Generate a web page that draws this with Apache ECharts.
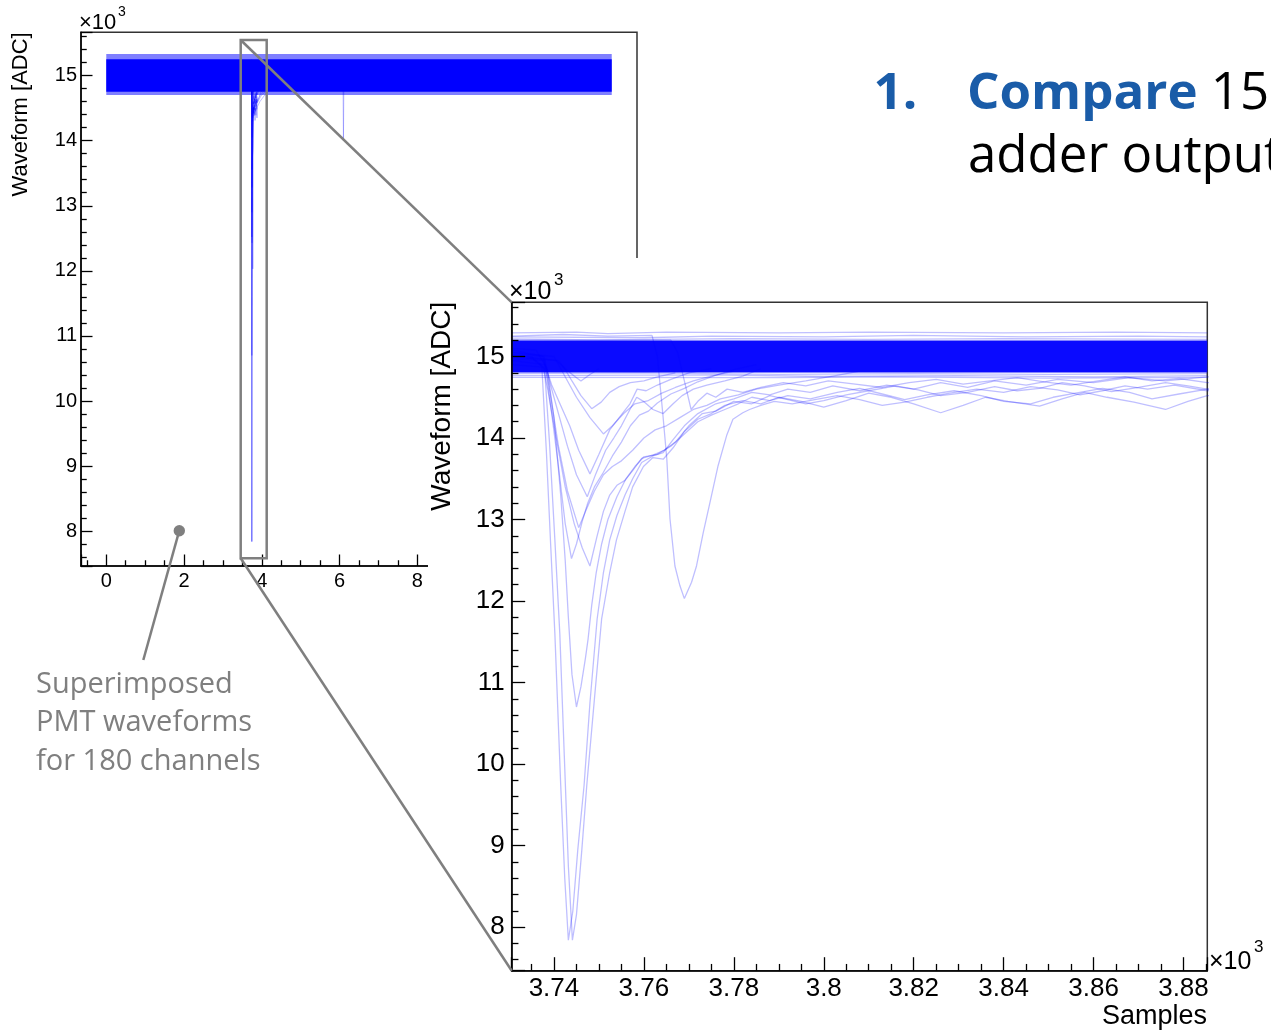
<!DOCTYPE html>
<html>
<head>
<meta charset="utf-8">
<script src="https://cdn.jsdelivr.net/npm/echarts@6/dist/echarts.min.js"></script>
<style>
  html, body { margin: 0; padding: 0; background: #fff; }
  #main { width: 1271px; height: 1031px; }
</style>
</head>
<body>
<div id="main"></div>
<script>
// ---------------- data ----------------
// axis ranges (samples / ADC counts)
const overviewSamples = [-650, 13650];
const zoomSamples = [3730.6, 3885.3];
const adcRange = [7465, 15665];

// baseline band of the 180 superimposed channels
const recordSpan = [0, 13000];
const overviewCore = [14750, 15250];
const overviewFringe = [14700, 15330];
const zoomCore = [14805, 15195];

// channels at the edges of the baseline band (enlarged view)
const edgeHigh1 = [[3730.6,15290],[3745,15300],[3752,15280],[3765,15300],[3790,15290],[3810,15300],[3840,15290],[3865,15300],[3885.3,15290]];
const edgeHigh2 = [[3730.6,15240],[3760,15230],[3775,15250],[3800,15240],[3820,15260],[3845,15240],[3870,15250],[3885.3,15240]];
const edgeHigh3 = [[3730.6,15215],[3750,15205],[3780,15220],[3810,15210],[3840,15220],[3885.3,15210]];
const edgeLow1 = [[3730.6,14790],[3760,14800],[3790,14780],[3820,14790],[3850,14780],[3885.3,14790]];
const edgeLow2 = [[3730.6,14765],[3775,14775],[3800,14755],[3830,14765],[3860,14750],[3885.3,14765]];
const edgeLow3 = [[3730.6,14745],[3790,14740],[3815,14750],[3850,14735],[3885.3,14745]];

// channels with a pulse, [sample, ADC]
const chA1 = [[3730.6,15020],[3735,15000],[3737.3,14880],[3738.3,13850],[3739.3,12650],[3740.2,11600],[3741.5,9740],[3742.4,8600],[3743.2,7840],[3744.2,8200],[3745.3,8950],[3746.7,9740],[3748,10750],[3749.6,11780],[3751,12350],[3752.4,12750],[3754,13050],[3755.8,13300],[3757.5,13500],[3759.5,13700],[3762,13780],[3764.3,13820],[3766.5,13980],[3769,14150],[3772,14300],[3776,14420],[3780,14480],[3784,14560],[3788,14530],[3792,14600],[3797,14560],[3802,14640],[3808,14580],[3814,14650],[3820,14600],[3826,14680],[3832,14620],[3838,14700],[3845,14650],[3852,14720],[3860,14680],[3868,14740],[3876,14700],[3885.3,14750],[3950,14800],[4150,14900]];
const chA2 = [[3730.6,14950],[3735,14980],[3737.9,14860],[3739,13950],[3740.2,12750],[3741.3,11600],[3742.3,10100],[3743.2,8750],[3744.1,7840],[3745,8150],[3746.2,8950],[3747.3,9740],[3749,10800],[3750.6,11780],[3752.4,12350],[3753.9,12750],[3755.8,13100],[3757.5,13400],[3759.9,13650],[3762,13760],[3764.3,13740],[3766.5,13880],[3769,14080],[3772,14230],[3775,14300],[3778,14400],[3782,14460],[3786,14420],[3790,14500],[3795,14450],[3800,14380],[3805,14460],[3810,14550],[3815,14500],[3820,14420],[3826,14310],[3831,14400],[3836,14500],[3841,14450],[3848,14390],[3853,14480],[3858,14560],[3863,14500],[3869,14440],[3876,14350],[3881,14450],[3885.3,14520],[3950,14600],[4100,14720],[4300,14850]];
const chB = [[3730.6,15100],[3736,15080],[3738.5,14850],[3740,14250],[3741.5,13300],[3742.5,12500],[3743.2,11800],[3744,11100],[3745,10700],[3746,10950],[3747,11300],[3747.6,11540],[3748.4,11950],[3749.4,12350],[3750.6,12700],[3752,13000],[3754,13280],[3756,13500],[3758,13650],[3760,13770],[3763,13800],[3766,13900],[3769,14050],[3772,14200],[3775,14280],[3778,14350],[3781,14420],[3784,14500],[3788,14460],[3792,14520],[3797,14480],[3803,14560],[3808,14610],[3813,14540],[3818,14470],[3823,14530],[3829,14580],[3835,14520],[3840,14450],[3846,14420],[3851,14500],[3856,14550],[3862,14610],[3868,14560],[3873,14480],[3879,14540],[3885.3,14600],[3960,14700],[4200,14850]];
const chC = [[3730.6,15050],[3737.5,15000],[3738.3,14800],[3739.5,14300],[3741,13650],[3742.5,12950],[3743.9,12520],[3745,12700],[3746.3,12980],[3747.5,13200],[3749,13400],[3751,13580],[3753,13780],[3755,13950],[3757,14150],[3759,14280],[3761,14330],[3763,14430],[3766,14540],[3769,14610],[3772,14690],[3776,14770],[3780,14840],[3785,14900]];
const chD = [[3730.6,14900],[3737.6,14870],[3738.6,14600],[3740.5,14000],[3742.5,13400],[3744.5,12950],[3746.3,12650],[3748,12430],[3749.6,12800],[3751,13100],[3752.4,13300],[3754,13420],[3755.8,13480],[3757.5,13600],[3759.5,13750],[3762,13790],[3764.5,13850],[3767,13950],[3770,14150],[3773,14300],[3776,14330],[3780,14450],[3784,14420],[3788,14520],[3792,14470],[3796,14420],[3800,14460],[3805,14530],[3810,14580],[3816,14640],[3821,14590],[3826,14520],[3832,14560],[3838,14630],[3843,14580],[3848,14610],[3853,14680],[3858,14640],[3864,14570],[3870,14620],[3876,14680],[3881,14640],[3885.3,14600],[3980,14750],[4250,14880]];
const chE = [[3730.6,15080],[3737.8,15000],[3739,14700],[3741,14300],[3743,13900],[3745,13550],[3747.4,13280],[3749.3,13560],[3751.5,13850],[3753.3,14000],[3755,14150],[3756.9,14350],[3758.4,14500],[3759.9,14450],[3762,14350],[3764.3,14300],[3766.5,14420],[3768.5,14520],[3771,14600],[3774,14650],[3778,14700],[3782,14760],[3786,14850]];
const chF = [[3730.6,14950],[3738,14900],[3739.5,14650],[3741.5,14400],[3743.5,14150],[3745.5,13850],[3748,13560],[3750,13800],[3752.4,14100],[3754.5,14250],[3756.9,14420],[3758.5,14600],[3760.5,14580],[3763,14650],[3766,14720],[3770,14800],[3775,14850]];
const chG = [[3730.6,15000],[3741,14950],[3742.4,14850],[3744,14700],[3746,14520],[3748.4,14360],[3750.5,14440],[3752.4,14560],[3754.5,14630],[3757,14680],[3760,14700],[3763,14750],[3767,14800]];
const chH = [[3730.6,15020],[3740.5,14950],[3742.5,14850],[3744.5,14760],[3746,14700],[3748,14780],[3750,14850]];
const chI = [[3730.6,15250],[3742,15270],[3752,15250],[3761.8,15260],[3763,15000],[3764.2,14300],[3765.1,13740],[3765.8,13010],[3766.9,12430],[3768,12190],[3769,12030],[3770.6,12230],[3771.7,12430],[3773.2,12840],[3774.7,13210],[3776.5,13660],[3778.4,14030],[3779.8,14230],[3782,14310],[3783.5,14350],[3786,14400],[3789,14450],[3793,14420],[3798,14470],[3803,14520],[3808,14470],[3813,14400],[3818,14440],[3823,14500],[3828,14550],[3834,14600],[3840,14560],[3846,14630],[3852,14590],[3857,14530],[3862,14580],[3867,14640],[3872,14600],[3878,14650],[3885.3,14580],[3990,14700],[4300,14850]];
const chJ = [[3730.6,15200],[3766,15200],[3767.5,15050],[3769,14700],[3770.5,14350],[3772,14450],[3774,14550],[3776,14500],[3778.5,14600],[3782,14560],[3786,14620],[3791,14680],[3796,14640],[3801,14700],[3807,14660],[3813,14620],[3819,14680],[3825,14720],[3831,14660],[3837,14700],[3843,14740],[3849,14690],[3855,14650],[3861,14700],[3867,14750],[3873,14700],[3879,14730],[3885.3,14680],[3950,14800]];
const chK = [[3730.6,14980],[3737.9,14950],[3739,14600],[3741,13900],[3743,13350],[3745.5,12900],[3747,13100],[3749,13350],[3751,13550],[3753,13650],[3755,13720],[3757.5,13850],[3760,14000],[3762.5,14100],[3765,14150],[3768,14250],[3771,14350],[3774,14400],[3777,14480],[3781,14530],[3785,14600],[3790,14650],[3796,14700],[3802,14760],[3808,14820]];
const chL = [[3730.6,15050],[3740,15000],[3742,14800],[3745,14500],[3748,14250],[3751,14050],[3753,14150],[3755.5,14300],[3758,14420],[3761,14460],[3764,14550],[3767,14620],[3771,14700],[3775,14760],[3780,14820]];
// single-channel glitch later in the record
const chGlitch = [[6090,14850],[6100,14000],[6110,14850]];

const pulseChannels = [chA1, chA2, chB, chC, chD, chE, chF, chG, chH, chI, chJ, chK, chL];
const edgeChannels = [edgeHigh1, edgeHigh2, edgeHigh3, edgeLow1, edgeLow2, edgeLow3];

// ---------------- styling helpers ----------------
const TRACE = 'rgba(0,0,255,0.25)';
const AXIS_FONT = '"Liberation Sans", Arial, Helvetica, sans-serif';
const SLIDE_FONT = '"Open Sans", "Noto Sans", sans-serif';
const GRAY = '#7f7f7f';

function trace(data, gi, z, width) {
  return {
    type: 'line', xAxisIndex: gi, yAxisIndex: gi, data: data,
    symbol: 'none', showSymbol: false, silent: true, clip: true, z: z,
    lineStyle: { color: TRACE, width: width }
  };
}

// filled band between two ADC levels over a sample span
function band(span, levels, color, gi, z) {
  return {
    type: 'custom', xAxisIndex: gi, yAxisIndex: gi, silent: true, z: z,
    data: [[span[0], span[1], levels[0], levels[1]]],
    encode: { x: [0, 1], y: [2, 3] },
    renderItem: function (params, api) {
      const p0 = api.coord([api.value(0), api.value(3)]);
      const p1 = api.coord([api.value(1), api.value(2)]);
      const cs = params.coordSys;
      const shape = echarts.graphic.clipRectByRect(
        { x: p0[0], y: p0[1], width: p1[0] - p0[0], height: p1[1] - p0[1] },
        { x: cs.x, y: cs.y, width: cs.width, height: cs.height });
      return shape && { type: 'rect', shape: shape, style: { fill: color } };
    }
  };
}

function valueAxis(gi, range, split, step, font, margin, tickLen, minorSplit, z, divisor) {
  return {
    type: 'value', gridIndex: gi, min: range[0], max: range[1], z: z,
    splitNumber: split, minInterval: step, maxInterval: step,
    axisLine: { show: true, onZero: false, lineStyle: { color: '#000', width: 1.5 } },
    axisTick: { show: true, inside: true, length: tickLen, lineStyle: { color: '#000', width: 1.3 } },
    minorTick: { show: true, splitNumber: minorSplit, length: tickLen / 2, lineStyle: { color: '#000', width: 1.3 } },
    splitLine: { show: false }, minorSplitLine: { show: false },
    axisLabel: {
      show: true, margin: margin, fontSize: font, fontFamily: AXIS_FONT, color: '#000',
      formatter: v => (Math.abs(v % step) < 1e-6 ? String(Math.round(v) / divisor) : '')
    }
  };
}

// ---------------- series ----------------
const series = [];
// overview: whole record
series.push(band(recordSpan, overviewFringe, 'rgba(0,0,255,0.5)', 0, 1));
series.push(band(recordSpan, overviewCore, '#0000ff', 0, 1));
pulseChannels.forEach(d => series.push(trace(d, 0, 1, 1)));
series.push(trace(chGlitch, 0, 1, 1));
// enlarged view around the pulse
series.push(band(zoomSamples, zoomCore, '#0a0aff', 1, 4));
edgeChannels.forEach(d => series.push(trace(d, 1, 5, 1.3)));
pulseChannels.forEach(d => series.push(trace(d, 1, 5, 1.3)));

// ---------------- texts & slide decorations ----------------
function txt(x, y, text, font, fill, align, extra) {
  return Object.assign({ type: 'text', x: x, y: y, z: 10, silent: true,
    style: { text: text, font: font, fill: fill, align: align || 'left', verticalAlign: 'middle' } }, extra || {});
}
const graphics = [
  // the enlarged view sits on its own white panel
  { type: 'rect', z: 3, silent: true, shape: { x: 428, y: 258, width: 843, height: 773 }, style: { fill: '#fff' } },
  // zoom box and its connectors
  { type: 'rect', z: 10, silent: true, shape: { x: 240.7, y: 40, width: 26, height: 518.3 }, style: { fill: 'none', stroke: GRAY, lineWidth: 2.5 } },
  { type: 'line', z: 10, silent: true, shape: { x1: 240.7, y1: 40, x2: 511.7, y2: 302.3 }, style: { stroke: GRAY, lineWidth: 2.5 } },
  { type: 'line', z: 10, silent: true, shape: { x1: 240.7, y1: 558.3, x2: 511.7, y2: 970.7 }, style: { stroke: GRAY, lineWidth: 2.5 } },
  // callout
  { type: 'line', z: 10, silent: true, shape: { x1: 179.3, y1: 530.7, x2: 143.3, y2: 660 }, style: { stroke: GRAY, lineWidth: 2.5 } },
  { type: 'circle', z: 10, silent: true, shape: { cx: 179.3, cy: 530.7, r: 5.7 }, style: { fill: GRAY } },
  txt(36, 685, 'Superimposed', '29px ' + SLIDE_FONT, GRAY),
  txt(36, 723, 'PMT waveforms', '29px ' + SLIDE_FONT, GRAY),
  txt(36, 761.5, 'for 180 channels', '29px ' + SLIDE_FONT, GRAY),
  // heading
  txt(873.5, 94, '1.', 'bold 51px ' + SLIDE_FONT, '#1a5ca8'),
  { type: 'text', x: 967, y: 94, z: 10, silent: true,
    style: { text: '{b|Compare} 15', font: '51px ' + SLIDE_FONT, fill: '#000', verticalAlign: 'middle',
      rich: { b: { fontWeight: 'bold', fontSize: 51, fontFamily: SLIDE_FONT, fill: '#1a5ca8' } } } },
  txt(968, 157, 'adder output', '51px ' + SLIDE_FONT, '#000'),
  // axis titles and exponents
  txt(21, 32.3, 'Waveform [ADC]', '22px ' + AXIS_FONT, '#000', 'right', { rotation: Math.PI / 2 }),
  txt(79, 22.7, '×10', '22px ' + AXIS_FONT, '#000'),
  txt(118, 12.5, '3', '14px ' + AXIS_FONT, '#000'),
  txt(442.5, 301.7, 'Waveform [ADC]', '28px ' + AXIS_FONT, '#000', 'right', { rotation: Math.PI / 2 }),
  txt(509, 291.7, '×10', '25px ' + AXIS_FONT, '#000'),
  txt(554, 280, '3', '17px ' + AXIS_FONT, '#000'),
  txt(1209, 961.7, '×10', '25px ' + AXIS_FONT, '#000'),
  txt(1254, 947.5, '3', '17px ' + AXIS_FONT, '#000'),
  txt(1207, 1016.6, 'Samples', '27px ' + AXIS_FONT, '#000', 'right')
];

// ---------------- chart ----------------
const chart = echarts.init(document.getElementById('main'), null, { renderer: 'canvas' });
chart.setOption({
  animation: false,
  backgroundColor: '#fff',
  grid: [
    { left: 81, top: 32.3, width: 556, height: 533.7, show: true, z: 0, borderColor: '#333', borderWidth: 1.5, backgroundColor: 'transparent', outerBoundsMode: 'none' },
    { left: 511.7, top: 302.3, width: 695.6, height: 668.4, show: true, z: 4, borderColor: '#333', borderWidth: 1.5, backgroundColor: 'transparent', outerBoundsMode: 'none' }
  ],
  xAxis: [
    valueAxis(0, overviewSamples, 7, 2000, 20, 5, 11.5, 4, 0, 1000),
    valueAxis(1, zoomSamples, 8, 20, 26, 5, 13.5, 4, 6, 1000)
  ],
  yAxis: [
    valueAxis(0, adcRange, 8, 1000, 20, 4, 11.5, 5, 0, 1000),
    valueAxis(1, adcRange, 8, 1000, 26, 7, 13.5, 5, 6, 1000)
  ],
  series: series,
  graphic: { elements: graphics }
});
</script>
</body>
</html>
